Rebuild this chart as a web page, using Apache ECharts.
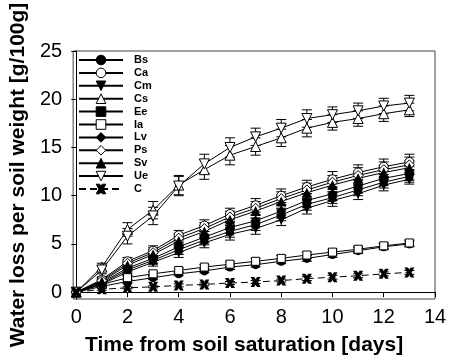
<!DOCTYPE html>
<html><head><meta charset="utf-8">
<script src="https://cdn.jsdelivr.net/npm/echarts@6/dist/echarts.min.js"></script>
<style>html,body{margin:0;padding:0;background:#fff}#c{width:451px;height:361px}</style>
</head><body><div id="c"></div>
<script>
const days = [0,1,2,3,4,5,6,7,8,9,10,11,12,13];
const xTicks = [0,2,4,6,8,10,12,14];
const yTicks = [0,5,10,15,20,25];
const names = ['Bs','Ca','Cm','Cs','Ee','Ia','Lv','Ps','Sv','Ue','C'];

const Bs = [0,0.6,1.1,1.5,1.9,2.2,2.6,2.85,3.2,3.5,3.9,4.3,4.7,5.0];
const Ca = [0,1.3,3.2,4.3,5.9,6.9,8.1,9.0,10.0,10.9,11.7,12.4,13.0,13.5];
const Cm = [0,0.8,2.1,3.1,4.1,5.1,6.0,6.6,7.5,8.7,9.5,10.2,11.1,11.7];
const Cs = [0,2.6,6.5,8.5,11.1,12.7,14.2,15.1,16.0,17.0,17.6,18.0,18.5,18.9];
const Ee = [0,0.9,2.3,3.3,4.4,5.4,6.3,7.0,8.0,9.1,9.8,10.6,11.4,12.0];
const Ia = [0,0.8,1.5,1.9,2.25,2.6,2.9,3.2,3.5,3.85,4.15,4.45,4.8,5.1];
const Lv = [0,1.0,2.5,3.5,4.7,5.7,6.7,7.4,8.4,9.5,10.2,11.0,11.8,12.3];
const Ps = [0,1.2,3.0,4.1,5.6,6.6,7.8,8.7,9.7,10.6,11.4,12.1,12.7,13.2];
const Sv = [0,1.1,2.8,3.9,5.3,6.3,7.5,8.4,9.4,10.3,11.1,11.8,12.4,12.9];
const Ue = [0,2.3,5.8,7.9,11.0,13.3,15.0,16.1,17.0,18.0,18.4,18.8,19.3,19.6];
const C  = [0,0.3,0.45,0.55,0.7,0.8,0.95,1.05,1.2,1.4,1.55,1.7,1.9,2.05];

const errBs = [0,0.1,0.15,0.2,0.2,0.2,0.25,0.25,0.25,0.3,0.3,0.3,0.3,0.3];
const errCa = [0,0.3,0.4,0.5,0.5,0.6,0.6,0.7,0.7,0.7,0.8,0.8,0.8,0.8];
const errCm = [0,0.3,0.4,0.4,0.5,0.5,0.6,0.6,0.6,0.6,0.6,0.6,0.6,0.5];
const errCs = [0,0.4,0.7,0.9,1.0,1.0,1.0,0.9,0.9,0.9,0.8,0.8,0.8,0.7];
const errEe = [0,0.3,0.4,0.4,0.5,0.5,0.6,0.6,0.6,0.6,0.6,0.6,0.6,0.6];
const errIa = [0,0.15,0.2,0.2,0.25,0.25,0.25,0.3,0.3,0.3,0.3,0.3,0.3,0.3];
const errLv = [0,0.3,0.4,0.5,0.5,0.6,0.6,0.6,0.7,0.7,0.7,0.7,0.7,0.7];
const errPs = [0,0.3,0.4,0.5,0.5,0.6,0.6,0.7,0.7,0.7,0.7,0.8,0.8,0.8];
const errSv = [0,0.3,0.4,0.5,0.5,0.6,0.6,0.7,0.7,0.7,0.7,0.7,0.7,0.7];
const errUe = [0,0.4,0.8,0.9,1.0,1.0,1.0,0.9,0.9,0.9,0.8,0.8,0.8,0.8];
const errC  = [0,0.1,0.1,0.1,0.15,0.15,0.15,0.15,0.15,0.2,0.2,0.2,0.2,0.2];

const values = {Bs,Ca,Cm,Cs,Ee,Ia,Lv,Ps,Sv,Ue,C};
const errors = {Bs:errBs,Ca:errCa,Cm:errCm,Cs:errCs,Ee:errEe,Ia:errIa,Lv:errLv,Ps:errPs,Sv:errSv,Ue:errUe,C:errC};

const xPath = 'path://M0,0L3.6,0L5,2.2L6.4,0L10,0L7.2,5L10,10L6.4,10L5,7.8L3.6,10L0,10L2.8,5Z';
const styles = {
  Bs:{symbol:'circle', size:9, fill:'#000'},
  Ca:{symbol:'circle', size:9, fill:'#fff'},
  Cm:{symbol:'triangle', size:10, fill:'#000', rot:180},
  Cs:{symbol:'triangle', size:10, fill:'#fff'},
  Ee:{symbol:'rect', size:8, fill:'#000'},
  Ia:{symbol:'rect', size:8, fill:'#fff'},
  Lv:{symbol:'diamond', size:10, fill:'#000'},
  Ps:{symbol:'diamond', size:10, fill:'#fff'},
  Sv:{symbol:'triangle', size:10, fill:'#000'},
  Ue:{symbol:'triangle', size:10, fill:'#fff', rot:180},
  C:{symbol:xPath, size:10, fill:'#000', dash:true}
};

const FONT = 'Liberation Sans, Arial, sans-serif';

const errData = [];
names.forEach(n => {
  days.forEach((d, i) => {
    const e = errors[n][i];
    if (e > 0) errData.push([d, values[n][i] - e, values[n][i] + e]);
  });
});

const lineSeries = names.map(n => {
  const s = styles[n];
  return {
    name: n, type: 'line', z: 3,
    data: days.map((d, i) => [d, values[n][i]]),
    symbol: s.symbol, symbolSize: s.size, symbolRotate: s.rot || 0,
    showAllSymbol: true,
    lineStyle: {color: '#000', width: 1, type: s.dash ? [7,4] : 'solid'},
    itemStyle: {color: s.fill, borderColor: '#000', borderWidth: s.fill === '#fff' ? 1 : 0},
    emphasis: {disabled: true}
  };
});

const errSeries = {
  type: 'custom', z: 2, silent: true,
  data: errData,
  renderItem: function (params, api) {
    const x = api.value(0);
    const lo = api.coord([x, api.value(1)]);
    const hi = api.coord([x, api.value(2)]);
    const w = 5;
    const st = {stroke: '#000', lineWidth: 1};
    return {type: 'group', children: [
      {type: 'line', shape: {x1: lo[0], y1: lo[1], x2: hi[0], y2: hi[1]}, style: st},
      {type: 'line', shape: {x1: lo[0]-w, y1: lo[1], x2: lo[0]+w, y2: lo[1]}, style: st},
      {type: 'line', shape: {x1: hi[0]-w, y1: hi[1], x2: hi[0]+w, y2: hi[1]}, style: st}
    ]};
  }
};

const chart = echarts.init(document.getElementById('c'));
chart.setOption({
  animation: false,
  backgroundColor: '#fff',
  grid: {left: 73, right: 16, top: 51, bottom: 57, show: true, borderColor: '#444', borderWidth: 1, backgroundColor: 'transparent'},
  legend: {
    orient: 'vertical', left: 78, top: 54, padding: 0,
    itemWidth: 44, itemHeight: 12, itemGap: 0.9,
    data: names,
    itemStyle: {borderWidth: 1, borderColor: '#000'},
    textStyle: {fontFamily: FONT, fontWeight: 'bold', fontSize: 11, lineHeight: 12, color: '#000', padding: [0,0,0,6]}
  },
  xAxis: {
    type: 'value', min: -0.12, max: 14,
    axisLine: {show: true, lineStyle: {color: '#000', width: 1}},
    axisTick: {show: true, length: 5, customValues: xTicks, lineStyle: {color: '#000'}},
    axisLabel: {customValues: xTicks, fontFamily: FONT, fontSize: 20, color: '#000', margin: 8},
    splitLine: {show: false},
    name: 'Time from soil saturation [days]', nameLocation: 'middle', nameGap: 36,
    nameTextStyle: {fontFamily: FONT, fontWeight: 'bold', fontSize: 21, color: '#000', padding: [0,20,0,0]}
  },
  yAxis: {
    type: 'value', min: -0.71, max: 25,
    axisLine: {show: true, lineStyle: {color: '#000', width: 1}},
    axisTick: {show: true, length: 5, customValues: yTicks, lineStyle: {color: '#000'}},
    axisLabel: {customValues: yTicks, fontFamily: FONT, fontSize: 20, color: '#000', margin: 11},
    splitLine: {show: false},
    name: 'Water loss per soil weight [g/100g]', nameLocation: 'middle', nameGap: 38,
    nameTextStyle: {fontFamily: FONT, fontWeight: 'bold', fontSize: 21, color: '#000'}
  },
  series: [errSeries].concat(lineSeries)
});
</script>
</body></html>
